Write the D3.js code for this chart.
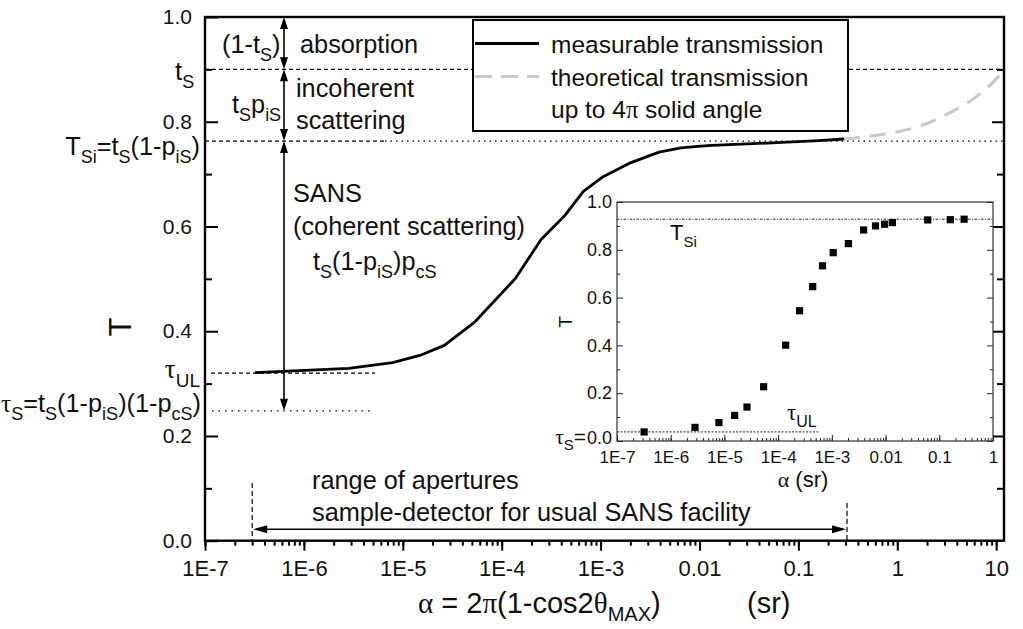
<!DOCTYPE html>
<html>
<head>
<meta charset="utf-8">
<script src="https://cdn.jsdelivr.net/npm/d3@7"></script>
<style>
  body { margin: 0; background: #fff; }
  svg { display: block; }
  text { font-family: "Liberation Sans", Arial, sans-serif; fill: #111; }
  .greek { font-family: "Liberation Serif", "DejaVu Serif", serif; }
</style>
</head>
<body>
<div id="chart"></div>
<script>
// values
const measAlpha = [3.2e-7, 2.83e-6, 7.9e-6, 1.55e-5, 2.63e-5, 5.37e-5, 1.38e-4, 2.5e-4, 4.4e-4, 6.7e-4, 1.06e-3, 2.03e-3, 3.9e-3, 6.5e-3, 9.6e-3, 1.34e-2, 6.1e-2, 0.161, 0.29];
const measT = [0.321, 0.329, 0.340, 0.355, 0.373, 0.418, 0.501, 0.575, 0.622, 0.667, 0.695, 0.722, 0.742, 0.750, 0.753, 0.755, 0.760, 0.764, 0.767];
const theoAlpha = [0.29, 0.67, 1.7, 3.4, 6.1, 9.7, 12];
const theoT = [0.767, 0.775, 0.792, 0.817, 0.846, 0.879, 0.899];

const insetAlpha = [3.2e-7, 2.83e-6, 7.9e-6, 1.55e-5, 2.63e-5, 5.37e-5, 1.38e-4, 2.5e-4, 4.4e-4, 6.7e-4, 1.06e-3, 2.03e-3, 3.9e-3, 6.5e-3, 9.6e-3, 1.34e-2, 6.1e-2, 0.161, 0.29];
const insetT = [0.038, 0.057, 0.077, 0.107, 0.142, 0.227, 0.401, 0.545, 0.646, 0.733, 0.788, 0.826, 0.883, 0.900, 0.907, 0.914, 0.925, 0.926, 0.928];

// levels
const tS = 0.9, TSi = 0.763, tauUL = 0.32, tauS = 0.248;
const insetTSi = 0.928, insetTauUL = 0.038;
const apertureRange = [3.0e-7, 0.31];

const xTickVals = [1e-7, 1e-6, 1e-5, 1e-4, 1e-3, 1e-2, 0.1, 1, 10];
const xTickLabels = ["1E-7", "1E-6", "1E-5", "1E-4", "1E-3", "0.01", "0.1", "1", "10"];
const insetXTickVals = [1e-7, 1e-6, 1e-5, 1e-4, 1e-3, 1e-2, 0.1, 1];
const insetXTickLabels = ["1E-7", "1E-6", "1E-5", "1E-4", "1E-3", "0.01", "0.1", "1"];
const yTickVals = [0, 0.2, 0.4, 0.6, 0.8, 1.0];
const yTickLabels = ["0.0", "0.2", "0.4", "0.6", "0.8", "1.0"];
const yMinorVals = [0.1, 0.3, 0.5, 0.7, 0.9];

const W = 1023, H = 629;
const svg = d3.select("#chart").append("svg").attr("width", W).attr("height", H);

// main scales
const x = d3.scaleLog().domain([1e-7, 12]).range([205, 1004]);
const y = d3.scaleLinear().domain([0, 1]).range([540.7, 17]);

// rich text with subscripts; parts = [[text, isSub, isGreek], ...]
function rich(g, px, py, parts, size, anchor, subShift) {
  const t = g.append("text").attr("x", px).attr("y", py)
    .attr("text-anchor", anchor || "start").style("font-size", size + "px");
  const sh = subShift || Math.round(size * 0.3);
  let down = false;
  parts.forEach(p => {
    const s = t.append("tspan").text(p[0]);
    if (p[2]) s.attr("class", "greek");
    if (p[1]) {
      s.style("font-size", Math.round(size * 0.7) + "px");
      if (!down) { s.attr("dy", sh); down = true; }
    } else if (down) { s.attr("dy", -sh); down = false; }
  });
  return t;
}

function arrowHead(g, px, py, dir, len, half) {
  // tip at (px,py)
  let pts;
  if (dir === "up") pts = [[px, py], [px - half, py + len], [px + half, py + len]];
  if (dir === "down") pts = [[px, py], [px - half, py - len], [px + half, py - len]];
  if (dir === "left") pts = [[px, py], [px + len, py - half], [px + len, py + half]];
  if (dir === "right") pts = [[px, py], [px - len, py - half], [px - len, py + half]];
  g.append("path").attr("d", "M" + pts.map(p => p.join(",")).join("L") + "Z").attr("fill", "#000");
}

const main = svg.append("g");

// level lines
main.append("line").attr("x1", x.range()[0]).attr("x2", x.range()[1])
  .attr("y1", y(tS)).attr("y2", y(tS))
  .attr("stroke", "#000").attr("stroke-width", 1.3).attr("stroke-dasharray", "4,3");
main.append("line").attr("x1", x.range()[0]).attr("x2", 385)
  .attr("y1", y(TSi)).attr("y2", y(TSi))
  .attr("stroke", "#000").attr("stroke-width", 1.3).attr("stroke-dasharray", "4,3");
main.append("line").attr("x1", 385).attr("x2", x.range()[1])
  .attr("y1", y(TSi)).attr("y2", y(TSi))
  .attr("stroke", "#000").attr("stroke-width", 1.2).attr("stroke-dasharray", "1.5,4");
main.append("line").attr("x1", 211).attr("x2", 375)
  .attr("y1", y(tauUL)).attr("y2", y(tauUL))
  .attr("stroke", "#000").attr("stroke-width", 1.3).attr("stroke-dasharray", "4,3");
main.append("line").attr("x1", 212).attr("x2", 372)
  .attr("y1", y(tauS)).attr("y2", y(tauS))
  .attr("stroke", "#000").attr("stroke-width", 1.2).attr("stroke-dasharray", "1.5,5");

// curves
const lineMain = d3.line().x(d => x(d[0])).y(d => y(d[1]));
main.append("path")
  .datum(theoAlpha.map((a, i) => [a, theoT[i]]))
  .attr("d", lineMain.curve(d3.curveMonotoneX))
  .attr("fill", "none").attr("stroke", "#c8c8c8").attr("stroke-width", 3)
  .attr("stroke-dasharray", "16,10");
main.append("path")
  .datum(measAlpha.map((a, i) => [a, measT[i]]))
  .attr("d", lineMain.curve(d3.curveLinear))
  .attr("fill", "none").attr("stroke", "#000").attr("stroke-width", 2.8)
  .attr("stroke-linejoin", "round");

// vertical arrows
const ax = 284;
[[1.0, tS], [tS, TSi], [TSi, tauS]].forEach(seg => {
  const y1 = y(seg[0]), y2 = y(seg[1]);
  main.append("line").attr("x1", ax).attr("x2", ax).attr("y1", y1 + 4).attr("y2", y2 - 4)
    .attr("stroke", "#000").attr("stroke-width", 1.6);
  arrowHead(main, ax, y1, "up", 12, 4);
  arrowHead(main, ax, y2, "down", 12, 4);
});

// range of apertures
const ry = 529.3;
const rx1 = x(apertureRange[0]), rx2 = x(apertureRange[1]);
main.append("line").attr("x1", rx1 + 4).attr("x2", rx2 - 4).attr("y1", ry).attr("y2", ry)
  .attr("stroke", "#000").attr("stroke-width", 1.4);
arrowHead(main, rx1 + 1, ry, "left", 14, 4);
arrowHead(main, rx2 - 1, ry, "right", 14, 4);
main.append("line").attr("x1", rx1).attr("x2", rx1).attr("y1", 483).attr("y2", y(0))
  .attr("stroke", "#000").attr("stroke-width", 1.2).attr("stroke-dasharray", "5,3");
main.append("line").attr("x1", rx2).attr("x2", rx2).attr("y1", 503).attr("y2", y(0))
  .attr("stroke", "#000").attr("stroke-width", 1.2).attr("stroke-dasharray", "5,3");

// axes
const gx = main.append("g").attr("transform", "translate(0," + y(0) + ")");
gx.call(d3.axisBottom(x).tickValues(x.ticks()).tickFormat("").tickSize(5));
gx.append("g").call(d3.axisBottom(x).tickValues(xTickVals)
  .tickFormat((d, i) => xTickLabels[i]).tickSize(10).tickPadding(10));
gx.selectAll("path.domain").remove();
gx.selectAll("line").attr("stroke", "#000").attr("stroke-width", 2);
gx.selectAll("text").style("font-size", "22px").attr("fill", "#111")
  .style("font-family", "'Liberation Sans', Arial, sans-serif");

const gy = main.append("g").attr("transform", "translate(" + x.range()[0] + ",0)");
gy.call(d3.axisLeft(y).tickValues(yMinorVals).tickFormat("").tickSize(-7));
gy.append("g").call(d3.axisLeft(y).tickValues(yTickVals)
  .tickFormat((d, i) => yTickLabels[i]).tickSize(-13).tickPadding(13));
gy.selectAll("path.domain").remove();
gy.selectAll("line").attr("stroke", "#000").attr("stroke-width", 2);
gy.selectAll("text").style("font-size", "21px").attr("fill", "#111")
  .style("font-family", "'Liberation Sans', Arial, sans-serif");

const gyr = main.append("g").attr("transform", "translate(" + x.range()[1] + ",0)");
gyr.call(d3.axisRight(y).tickValues(yMinorVals).tickFormat("").tickSize(-7));
gyr.append("g").call(d3.axisRight(y).tickValues(yTickVals.slice(1, 5)).tickFormat("").tickSize(-12));
gyr.selectAll("path.domain").remove();
gyr.selectAll("line").attr("stroke", "#000").attr("stroke-width", 2);

main.append("rect").attr("x", x.range()[0]).attr("y", y(1))
  .attr("width", x.range()[1] - x.range()[0]).attr("height", y(0) - y(1))
  .attr("fill", "none").attr("stroke", "#000").attr("stroke-width", 2.4);

// axis titles
main.append("text").attr("transform", "translate(131,327) rotate(-90)")
  .attr("text-anchor", "middle").style("font-size", "31px").text("T");
rich(main, 418, 613, [["α", false, true], [" = 2"], ["π", false, true], ["(1-cos2"], ["θ", false, true], ["MAX", true], [")"]], 29, "start", 8);
main.append("text").attr("x", 747).attr("y", 613).style("font-size", "29px").text("(sr)");

// annotations
const af = 25.3;
rich(main, 222, 53, [["(1-t"], ["S", true], [")"]], af);
main.append("text").attr("x", 300).attr("y", 53).style("font-size", af + "px").text("absorption");
rich(main, 175, 80, [["t"], ["S", true]], 26, "start", 8);
main.append("text").attr("x", 296).attr("y", 97).style("font-size", af + "px").text("incoherent");
main.append("text").attr("x", 296).attr("y", 129).style("font-size", af + "px").text("scattering");
rich(main, 232, 113, [["t"], ["S", true], ["p"], ["iS", true]], af);
rich(main, 200, 155, [["T"], ["Si", true], ["=t"], ["S", true], ["(1-p"], ["iS", true], [")"]], af, "end");
rich(main, 200, 378, [["τ", false, true], ["UL", true]], 27, "end", 9);
rich(main, 201, 412, [["τ", false, true], ["S", true], ["=t"], ["S", true], ["(1-p"], ["iS", true], [")(1-p"], ["cS", true], [")"]], af, "end", 8);
main.append("text").attr("x", 293).attr("y", 202).style("font-size", af + "px").text("SANS");
main.append("text").attr("x", 293).attr("y", 235).style("font-size", af + "px").text("(coherent scattering)");
rich(main, 313, 270, [["t"], ["S", true], ["(1-p"], ["iS", true], [")p"], ["cS", true]], af);
main.append("text").attr("x", 312).attr("y", 489).style("font-size", af + "px").text("range of apertures");
main.append("text").attr("x", 312).attr("y", 521).style("font-size", af + "px").text("sample-detector for usual SANS facility");

// legend
const leg = main.append("g");
leg.append("rect").attr("x", 473).attr("y", 20).attr("width", 375).attr("height", 111)
  .attr("fill", "#fff").attr("stroke", "#000").attr("stroke-width", 2);
leg.append("line").attr("x1", 475).attr("x2", 539).attr("y1", 43.5).attr("y2", 43.5)
  .attr("stroke", "#000").attr("stroke-width", 2.8);
leg.append("line").attr("x1", 475).attr("x2", 539).attr("y1", 76.5).attr("y2", 76.5)
  .attr("stroke", "#c8c8c8").attr("stroke-width", 3).attr("stroke-dasharray", "17,9");
const lf = 24.5;
leg.append("text").attr("x", 551).attr("y", 53).style("font-size", lf + "px").text("measurable transmission");
leg.append("text").attr("x", 551).attr("y", 86).style("font-size", lf + "px").text("theoretical transmission");
rich(leg, 551, 118, [["up to 4"], ["π", false, true], [" solid angle"]], lf);

// ---------- inset ----------
const xi = d3.scaleLog().domain([1e-7, 1]).range([617, 993]);
const yi = d3.scaleLinear().domain([0, 1]).range([441, 202]);
const ins = svg.append("g");
ins.append("rect").attr("x", xi.range()[0]).attr("y", yi(1))
  .attr("width", xi.range()[1] - xi.range()[0]).attr("height", yi(0) - yi(1))
  .attr("fill", "#fff");

ins.append("line").attr("x1", xi.range()[0]).attr("x2", xi.range()[1])
  .attr("y1", yi(insetTSi)).attr("y2", yi(insetTSi))
  .attr("stroke", "#222").attr("stroke-width", 1).attr("stroke-dasharray", "2.5,1.5,1,1.5");
ins.append("line").attr("x1", xi.range()[0]).attr("x2", xi(5.6e-4))
  .attr("y1", yi(insetTauUL)).attr("y2", yi(insetTauUL))
  .attr("stroke", "#222").attr("stroke-width", 1).attr("stroke-dasharray", "2,1.5");

ins.selectAll("rect.pt").data(insetAlpha.map((a, i) => [a, insetT[i]]))
  .enter().append("rect").attr("class", "pt")
  .attr("x", d => xi(d[0]) - 3.6).attr("y", d => yi(d[1]) - 3.6)
  .attr("width", 7.2).attr("height", 7.2).attr("fill", "#000");

const gxi = ins.append("g").attr("transform", "translate(0," + yi(0) + ")");
gxi.call(d3.axisBottom(xi).tickValues(xi.ticks()).tickFormat("").tickSize(-3));
gxi.append("g").call(d3.axisBottom(xi).tickValues(insetXTickVals)
  .tickFormat((d, i) => insetXTickLabels[i]).tickSize(-6).tickPadding(10));
gxi.selectAll("path.domain").remove();
gxi.selectAll("line").attr("stroke", "#222").attr("stroke-width", 1);
gxi.selectAll("text").style("font-size", "17px").attr("fill", "#222")
  .style("font-family", "'Liberation Sans', Arial, sans-serif");

const gyi = ins.append("g").attr("transform", "translate(" + xi.range()[0] + ",0)");
gyi.call(d3.axisLeft(yi).tickValues(yMinorVals).tickFormat("").tickSize(-3));
gyi.append("g").call(d3.axisLeft(yi).tickValues(yTickVals)
  .tickFormat((d, i) => yTickLabels[i]).tickSize(-6).tickPadding(5));
gyi.selectAll("path.domain").remove();
gyi.selectAll("line").attr("stroke", "#222").attr("stroke-width", 1);
gyi.selectAll("text").style("font-size", "18px").attr("fill", "#222")
  .style("font-family", "'Liberation Sans', Arial, sans-serif");
// lift the 0.0 label a little off the x labels
gyi.selectAll(".tick").filter(d => d === 0).select("text").attr("y", -3);

const gyir = ins.append("g").attr("transform", "translate(" + xi.range()[1] + ",0)");
gyir.call(d3.axisRight(yi).tickValues(yMinorVals).tickFormat("").tickSize(-3));
gyir.append("g").call(d3.axisRight(yi).tickValues(yTickVals).tickFormat("").tickSize(-6));
gyir.selectAll("path.domain").remove();
gyir.selectAll("line").attr("stroke", "#222").attr("stroke-width", 1);

ins.append("rect").attr("x", xi.range()[0]).attr("y", yi(1))
  .attr("width", xi.range()[1] - xi.range()[0]).attr("height", yi(0) - yi(1))
  .attr("fill", "none").attr("stroke", "#333").attr("stroke-width", 1.2);

rich(ins, 586, yi(0) + 3, [["τ", false, true], ["S", true], ["="]], 21, "end", 6);
rich(ins, 670, 240, [["T"], ["Si", true]], 22, "start", 7);
rich(ins, 787, 420, [["τ", false, true], ["UL", true]], 23, "start", 7);
ins.append("text").attr("transform", "translate(572,322) rotate(-90)")
  .attr("text-anchor", "middle").style("font-size", "19px").text("T");
rich(ins, 803, 487, [["α", false, true], ["  (sr)"]], 22, "middle");
</script>
</body>
</html>
